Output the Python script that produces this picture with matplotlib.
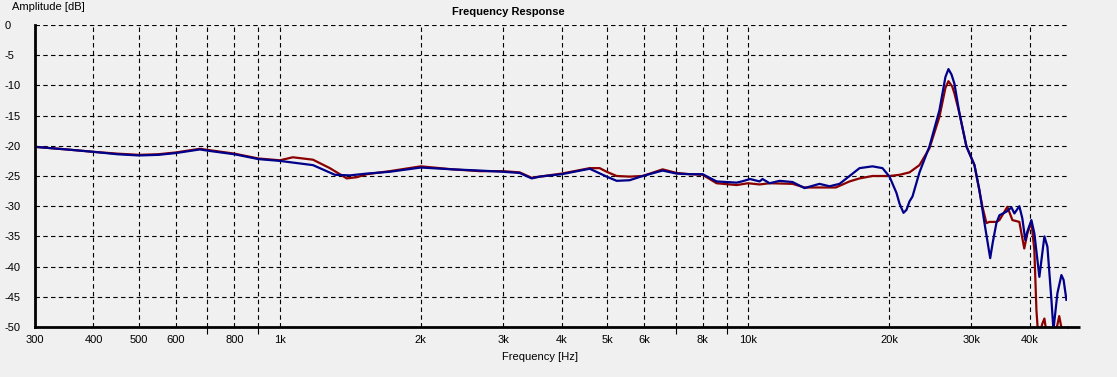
import matplotlib.pyplot as plt
from matplotlib.ticker import FixedLocator, NullFormatter

plt.rcParams['font.family'] = ['Liberation Sans', 'DejaVu Sans']

# measured responses (Hz, dB)
blue_freq = [303, 350, 400, 450, 500, 550, 600, 675, 700, 800, 900, 1000, 1177, 1311, 1411,
             1534, 1717, 2000, 2341, 2672, 3000, 3253, 3451, 3589, 4000, 4590, 4990, 5241,
             5587, 5956, 6570, 7037, 7500, 7998, 8568, 9453, 9700, 10100, 10584, 10740,
             11118, 11679, 12448, 13204, 14210, 14931, 15682, 16473, 17303, 18440, 19370,
             20049, 20750, 21070, 21480, 21800, 22124, 22450, 23236, 24405, 25634, 26400,
             26795, 27200, 27588, 28280, 29270, 30450, 31200, 31990, 32900, 33300, 33920,
             34430, 35640, 36520, 37060, 37970, 38530, 39100, 39500, 40290, 40880, 41900,
             42950, 43590, 44460, 44900, 45790, 46700, 47200, 47860]
blue_db = [-20.2, -20.6, -21.0, -21.4, -21.6, -21.5, -21.2, -20.6, -20.8, -21.4, -22.2, -22.5,
           -23.2, -24.8, -24.9, -24.6, -24.3, -23.6, -23.9, -24.1, -24.3, -24.5, -25.4, -25.1,
           -24.7, -23.8, -25.1, -25.8, -25.7, -25.0, -24.1, -24.6, -24.7, -24.7, -25.9, -26.1,
           -25.9, -25.5, -25.9, -25.5, -26.2, -25.8, -26.0, -27.0, -26.3, -26.7, -26.3, -25.0,
           -23.7, -23.4, -23.7, -25.1, -27.8, -29.6, -31.1, -30.6, -29.2, -28.4, -24.4, -20.1,
           -14.1, -8.6, -7.3, -8.2, -9.7, -14.6, -20.1, -23.2, -27.3, -32.8, -38.6, -36.1,
           -32.8, -31.5, -30.9, -30.2, -31.2, -30.0, -32.0, -35.6, -34.2, -32.3, -34.5, -41.7,
           -35.0, -36.7, -45.5, -50.5, -44.4, -41.4, -42.2, -45.5]

red_freq = [303, 350, 400, 450, 500, 550, 600, 675, 800, 900, 1000, 1066, 1177, 1279, 1390,
            1460, 1534, 1717, 2000, 2341, 2672, 3000, 3253, 3451, 3589, 4000, 4590, 4822,
            4990, 5241, 5587, 5956, 6570, 7037, 7500, 7998, 8568, 9453, 10000, 10584, 11118,
            12448, 13204, 14210, 15400, 16473, 17303, 18440, 20049, 21070, 22124, 23236,
            24405, 25634, 26400, 26795, 27300, 27588, 28280, 29270, 30450, 31670, 32300,
            32770, 33920, 34430, 35800, 36700, 37970, 38900, 39500, 40290, 40880, 41300,
            41700, 42500, 42950, 43590, 45100, 46200, 47200, 47860]
red_db = [-20.2, -20.6, -21.0, -21.3, -21.5, -21.4, -21.1, -20.5, -21.3, -22.1, -22.4, -21.9,
          -22.3, -23.7, -25.4, -25.2, -24.7, -24.2, -23.4, -23.9, -24.2, -24.2, -24.4, -25.3,
          -25.1, -24.6, -23.7, -23.7, -24.3, -25.0, -25.1, -25.0, -23.9, -24.5, -24.7, -24.8,
          -26.2, -26.5, -26.2, -26.4, -26.2, -26.3, -26.9, -26.9, -26.9, -25.9, -25.4, -25.0,
          -25.0, -24.8, -24.4, -23.2, -20.4, -15.2, -10.4, -9.3, -10.2, -11.3, -14.6, -20.1,
          -23.2, -30.1, -32.8, -32.6, -32.6, -32.3, -30.1, -32.3, -32.6, -37.0, -34.5, -32.6,
          -37.3, -47.2, -52.0, -49.5, -48.6, -52.0, -52.0, -48.2, -52.0, -52.0]

x_ticks = [300, 400, 500, 600, 800, 1000, 2000, 3000, 4000, 5000, 6000, 8000,
           10000, 20000, 30000, 40000]
x_labels = ['300', '400', '500', '600', '800', '1k', '2k', '3k', '4k', '5k', '6k', '8k',
            '10k', '20k', '30k', '40k']
x_minor = [700, 900, 7000, 9000]
y_ticks = [0, -5, -10, -15, -20, -25, -30, -35, -40, -45, -50]

bg = '#f0f0f0'
W, H = 1117, 377
fig = plt.figure(figsize=(W / 100, H / 100), dpi=100, facecolor=bg)
ax = fig.add_axes([35 / W, 1 - 327 / H, (1067 - 35) / W, (327 - 25) / H], facecolor=bg)

ax.plot(red_freq, red_db, color='#8b0000', lw=1.6)
ax.plot(blue_freq, blue_db, color='#00008b', lw=1.6)

ax.set_xscale('log')
ax.set_xlim(300, 48000)
ax.set_ylim(-50, 0)

ax.xaxis.set_major_locator(FixedLocator(x_ticks))
ax.set_xticklabels(x_labels, fontsize=8)
ax.xaxis.set_minor_locator(FixedLocator(x_minor))
ax.xaxis.set_minor_formatter(NullFormatter())
ax.tick_params(axis='x', which='major', length=0, pad=6)
ax.tick_params(axis='x', which='minor', length=5, width=0.8, direction='out')

ax.set_yticks(y_ticks)
ax.set_yticklabels([str(v) for v in y_ticks], fontsize=8)
ax.tick_params(axis='y', length=0, pad=22)
for lbl in ax.get_yticklabels():
    lbl.set_horizontalalignment('left')

ax.grid(True, which='both', axis='x', color='black', lw=0.8, ls=(0, (4, 3)))
ax.grid(True, which='major', axis='y', color='black', lw=0.8, ls=(0, (4, 3)))
ax.set_axisbelow(True)

for s in ['top', 'right']:
    ax.spines[s].set_visible(False)
for s in ['left', 'bottom']:
    ax.spines[s].set_linewidth(2)
# bottom axis line runs a little past the plot area
ax.plot([1.0, 1.013], [0, 0], transform=ax.transAxes, color='black', lw=2,
        clip_on=False, solid_capstyle='butt')

fig.text(508 / W, 1 - 12 / H, 'Frequency Response', ha='center', va='center',
         fontsize=8, fontweight='bold')
fig.text(12 / W, 1 - 7 / H, 'Amplitude [dB]', ha='left', va='center', fontsize=8)
fig.text(540 / W, 1 - 357 / H, 'Frequency [Hz]', ha='center', va='center', fontsize=8)

fig.savefig('out.png', dpi=100, facecolor=bg)
